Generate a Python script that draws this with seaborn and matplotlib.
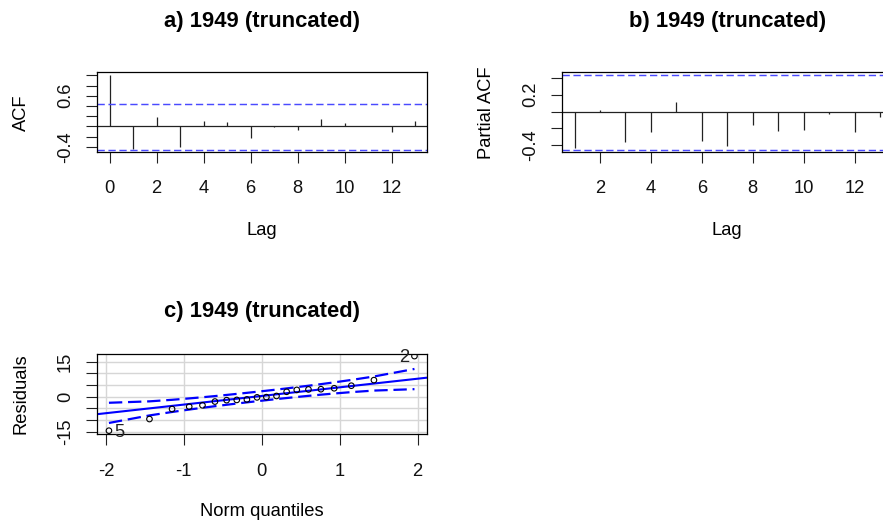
import matplotlib
matplotlib.use("Agg")
import matplotlib.pyplot as plt
import seaborn as sns
import pandas as pd

# ---- data ----
# a) ACF
acf_lags = [0, 1, 2, 3, 4, 5, 6, 7, 8, 9, 10, 11, 12, 13]
acf_vals = [1.0, -0.44, 0.18, -0.41, 0.10, 0.085, -0.23, -0.01, -0.07, 0.15, 0.065, 0.01, -0.11, 0.11]
acf_ci = [0.44, -0.47]
acf_yticks = [-0.4, -0.2, 0.0, 0.2, 0.4, 0.6, 0.8, 1.0]
acf_ylabels = ['-0.4', '', '', '', '', '0.6', '', '']

# b) PACF
pacf_lags = [1, 2, 3, 4, 5, 6, 7, 8, 9, 10, 11, 12, 13]
pacf_vals = [-0.43, 0.02, -0.37, -0.24, 0.11, -0.35, -0.41, -0.16, -0.23, -0.22, -0.03, -0.25, -0.07]
pacf_ci = [0.44, -0.46]
pacf_yticks = [-0.4, -0.2, 0.0, 0.2, 0.4]
pacf_ylabels = ['-0.4', '', '', '0.2', '']

# c) QQ plot of residuals
qq_x = [-1.96, -1.44, -1.15, -0.93, -0.76, -0.60, -0.45, -0.32, -0.19, -0.06,
        0.06, 0.19, 0.32, 0.45, 0.60, 0.76, 0.93, 1.15, 1.44, 1.96]
qq_y = [-14.6, -9.6, -5.3, -4.3, -3.7, -2.1, -1.5, -1.4, -1.2, -0.3,
        -0.2, 0.3, 2.1, 2.9, 3.1, 3.2, 3.6, 4.7, 7.1, 17.4]
qq_upper = [-2.62, -2.01, -1.35, -0.75, -0.25, 0.25, 0.74, 1.19, 1.64, 2.11,
            2.55, 3.04, 3.55, 4.08, 4.69, 5.37, 6.13, 7.17, 8.65, 11.88]
qq_lower = [-11.28, -8.05, -6.57, -5.53, -4.77, -4.09, -3.48, -2.95, -2.44, -1.95,
            -1.51, -1.04, -0.59, -0.14, 0.35, 0.85, 1.35, 1.95, 2.61, 3.22]
qq_intercept = 0.3
qq_slope = 3.7
qq_ids = {0: '5', 19: '2'}
qq_yticks = [-15, -10, -5, 0, 5, 10, 15]
qq_ylabels = ['-15', '', '', '0', '', '', '15']
qq_xticks = [-2, -1, 0, 1, 2]

title = '1949 (truncated)'

sns.set_style("white")
plt.rcParams['font.family'] = ['Liberation Sans', 'DejaVu Sans']
plt.rcParams['text.color'] = 'black'
plt.rcParams['axes.labelcolor'] = 'black'

W, H = 883, 528
FS = 13.2      # tick / axis label size
FS_TITLE = 15.8
fig = plt.figure(figsize=(W / 100, H / 100), dpi=100)


def box(left, top, right, bottom):
    return [left / W, (H - bottom) / H, (right - left) / W, (bottom - top) / H]


ax_a = fig.add_axes(box(97.3, 72.3, 427.3, 152.3))
ax_b = fig.add_axes(box(562.3, 72.3, 892.3, 152.3))
ax_c = fig.add_axes(box(96.7, 354.0, 426.7, 433.5))

blue_ci = '#4a4aff'


def style_axes(ax, xpad, title, title_off, height_px):
    for s in ax.spines.values():
        s.set_visible(True)
        s.set_color('black')
        s.set_linewidth(0.9)
    ax.tick_params(axis='both', direction='out', length=7.8, width=0.8, color='#222222',
                   labelsize=FS, labelcolor='#111111', left=True, bottom=True)
    ax.tick_params(axis='x', pad=xpad)
    ax.tick_params(axis='y', pad=8.6)
    for lab in ax.get_yticklabels():
        lab.set_rotation(90)
        lab.set_va('center')
    ax.xaxis.set_label_coords(0.5, -78 / height_px)
    ax.yaxis.set_label_coords(-75.5 / 330, 0.5)
    ax.xaxis.label.set_va('center')
    ax.yaxis.label.set_va('center')
    ax.set_title(title, fontsize=FS_TITLE, fontweight='bold', va='center',
                 y=1 + title_off / height_px, pad=0, color='black')


def corr_panel(ax, lags, vals, ci, yticks, ylabels, xlim, ylim, xticks, ylab, name):
    ax.vlines(lags, 0, vals, color='#222222', linewidth=0.9)
    ax.axhline(0, color='#222222', linewidth=0.9)
    for c in ci:
        ax.axhline(c, color=blue_ci, linewidth=1.05, linestyle=(0, (5, 2.5)))
    ax.set_xlim(xlim)
    ax.set_ylim(ylim)
    ax.set_xticks(xticks)
    ax.set_xticklabels([str(t) for t in xticks])
    ax.set_yticks(yticks)
    ax.set_yticklabels(ylabels)
    ax.set_xlabel('Lag', fontsize=FS)
    ax.set_ylabel(ylab, fontsize=FS)
    style_axes(ax, 12.0, name, 50.6, 80)


corr_panel(ax_a, acf_lags, acf_vals, acf_ci, acf_yticks, acf_ylabels,
           (-0.52, 13.52), (-0.51, 1.06), list(range(0, 13, 2)), 'ACF', 'a) ' + title)
corr_panel(ax_b, pacf_lags, pacf_vals, pacf_ci, pacf_yticks, pacf_ylabels,
           (0.52, 13.48), (-0.487, 0.468), list(range(2, 13, 2)), 'Partial ACF', 'b) ' + title)

# ---- c) QQ plot ----
qq = pd.DataFrame({'q': qq_x, 'res': qq_y, 'upper': qq_upper, 'lower': qq_lower})
xlim_c = (-2.117, 2.117)
ax_c.set_xlim(xlim_c)
ax_c.set_ylim(-15.8, 18.3)
for t in qq_xticks:
    ax_c.axvline(t, color='#d6d6d6', linewidth=1.0, zorder=0)
for t in qq_yticks:
    ax_c.axhline(t, color='#d6d6d6', linewidth=1.0, zorder=0)

line_df = pd.DataFrame({'q': list(xlim_c)})
line_df['fit'] = qq_intercept + qq_slope * line_df['q']
sns.lineplot(data=line_df, x='q', y='fit', ax=ax_c, color='#0000ff', linewidth=1.5)
sns.lineplot(data=qq, x='q', y='upper', ax=ax_c, color='#0000ff', linewidth=1.6,
             linestyle=(0, (6, 2.6)))
sns.lineplot(data=qq, x='q', y='lower', ax=ax_c, color='#0000ff', linewidth=1.6,
             linestyle=(0, (6, 2.6)))
sns.scatterplot(data=qq, x='q', y='res', ax=ax_c, marker='o', s=16,
                facecolor='none', edgecolor='black', linewidth=0.8, zorder=5)
for i, lab in qq_ids.items():
    dx = 7.5 if qq_x[i] < 0 else -7.5
    ax_c.annotate(lab, (qq_x[i], qq_y[i]), xytext=(dx, -1), textcoords='offset points',
                  ha='center', va='center', fontsize=FS, color='#222222')

ax_c.set_xticks(qq_xticks)
ax_c.set_xticklabels([str(t) for t in qq_xticks])
ax_c.set_yticks(qq_yticks)
ax_c.set_yticklabels(qq_ylabels)
ax_c.set_xlabel('Norm quantiles', fontsize=FS)
ax_c.set_ylabel('Residuals', fontsize=FS)
style_axes(ax_c, 13.6, 'c) ' + title, 42.0, 79.5)

fig.savefig('out.png', dpi=100)
